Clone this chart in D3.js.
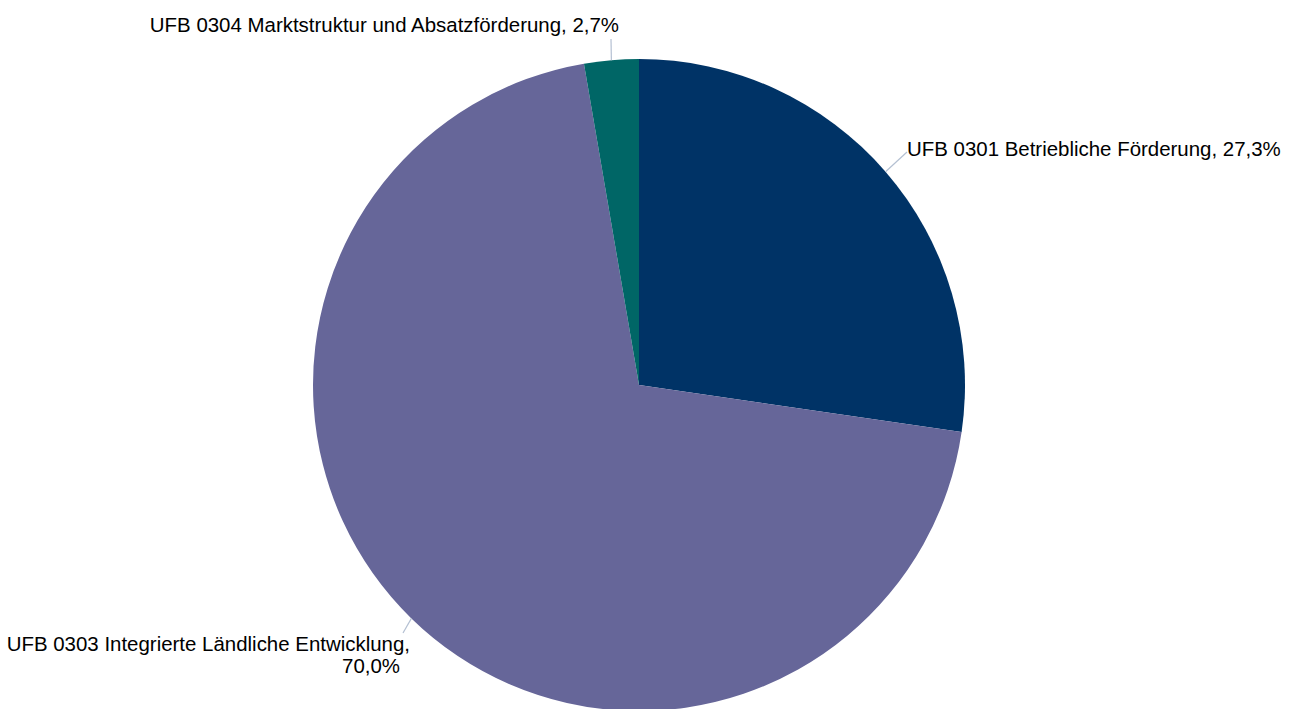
<!DOCTYPE html>
<html>
<head>
<meta charset="utf-8">
<script src="https://cdn.jsdelivr.net/npm/d3@7"></script>
<style>
  html, body { margin: 0; padding: 0; background: #fff; }
  svg { display: block; }
  text { font-family: "Liberation Sans", Arial, sans-serif; fill: #000; }
</style>
</head>
<body>
<svg id="chart" width="1296" height="709"></svg>
<script>
// Data
const categories = [
  "UFB 0301 Betriebliche Förderung",
  "UFB 0303 Integrierte Ländliche Entwicklung",
  "UFB 0304 Marktstruktur und Absatzförderung"
];
const values = [27.3, 70.0, 2.7];
const valueLabels = ["27,3%", "70,0%", "2,7%"];
const colors = ["#003366", "#666699", "#006666"];

const svg = d3.select("#chart");
const cx = 639, cy = 385, r = 326;
const fontSize = 20.45;

const data = categories.map((c, i) => ({ name: c, value: values[i], label: valueLabels[i], color: colors[i] }));

const pie = d3.pie().value(d => d.value).sort(null).startAngle(0).endAngle(2 * Math.PI);
const arcs = pie(data);
const arc = d3.arc().innerRadius(0).outerRadius(r);

const g = svg.append("g").attr("transform", `translate(${cx},${cy})`);
g.selectAll("path.slice")
  .data(arcs)
  .enter().append("path")
  .attr("class", "slice")
  .attr("d", arc)
  .attr("fill", d => d.data.color);

// Label layout (positions relative to chart)
const labelLayout = [
  { end: [907, 152], lines: [{ x: 907, y: 156, anchor: "start", t: d => `${d.name}, ${d.label}` }] },
  { end: [403, 633], lines: [
      { x: 410, y: 651, anchor: "end", t: d => `${d.name},` },
      { x: 400, y: 673, anchor: "end", t: d => d.label } ] },
  { end: [611, 39], lines: [{ x: 619, y: 32, anchor: "end", t: d => `${d.name}, ${d.label}` }] }
];

arcs.forEach((a, i) => {
  const mid = (a.startAngle + a.endAngle) / 2;
  const px = cx + r * Math.sin(mid);
  const py = cy - r * Math.cos(mid);
  const L = labelLayout[i];
  svg.append("line")
    .attr("x1", px).attr("y1", py)
    .attr("x2", L.end[0]).attr("y2", L.end[1])
    .attr("stroke", "#b4c0d2").attr("stroke-width", 1.2);
  L.lines.forEach(ln => {
    svg.append("text")
      .attr("x", ln.x).attr("y", ln.y)
      .attr("text-anchor", ln.anchor)
      .attr("font-size", fontSize)
      .text(ln.t(a.data));
  });
});
</script>
</body>
</html>
